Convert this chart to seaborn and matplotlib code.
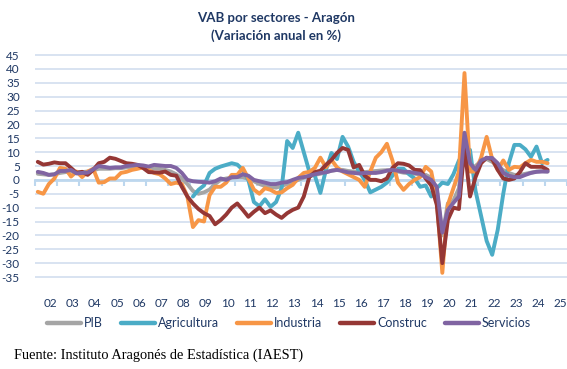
import matplotlib
matplotlib.use("Agg")
import matplotlib.pyplot as plt
import seaborn as sns
import numpy as np
import pandas as pd

sns.set_style("white")
plt.rcParams['font.family'] = ['Lato', 'DejaVu Sans']

# Trimestres 2002T1 .. 2025T1 (93 puntos)
trimestres = [f"{2002 + i // 4}T{i % 4 + 1}" for i in range(93)]
anios = [f"{y:02d}" for y in range(2, 26)]

pib = [2.2, 2.0, 1.8, 2.0, 2.5, 2.8, 3.0, 2.8, 2.8, 3.0, 3.5, 4.0,
       4.0, 4.0, 4.2, 4.2, 4.5, 4.5, 4.6, 4.6, 4.4, 4.2, 4.0, 3.6,
       3.0, 2.0, 0.5, -1.5, -4.0, -5.0, -4.5, -3.5, -1.5, 0.0, 0.5, 0.8,
       1.0, 1.0, 0.3, -0.5, -1.5, -2.2, -2.5, -2.8, -2.2, -1.5, -0.8, 0.0,
       0.8, 1.3, 1.8, 2.2, 2.8, 3.3, 3.6, 3.6, 3.2, 3.0, 2.8, 2.8,
       3.0, 3.2, 3.4, 3.5, 3.4, 3.0, 2.6, 2.4, 2.2, 2.0, 1.8, 0.8,
       -3.5, -20.0, -8.5, -7.5, -3.0, 16.0, 4.5, 5.0, 6.8, 7.5, 6.5, 5.0,
       3.5, 2.5, 1.8, 1.8, 2.2, 2.6, 3.0, 3.2, 3.0]

# Agricultura empieza en 2009T1
agri_inicio = 28
agricultura = [-6.0, -3.6, -2.0, 2.5, 4.0, 4.8, 5.4, 6.0, 5.5, 3.6, 0.0,
               -8.0, -9.5, -7.0, -9.7, -8.0, -3.0, 14.0, 11.5, 17.0, 10.0,
               3.0, 1.5, -4.7, 3.6, 9.7, 7.5, 15.5, 12.0, 6.5, 3.0,
               0.0, -4.5, -3.5, -2.5, -1.0, 1.5, 4.0, 4.0, 2.0, 0.5,
               -2.5, -2.0, -6.0, -3.0, -1.0, -1.5, 2.0, 7.0, 10.0, 10.8,
               -4.0, -13.0, -22.0, -27.0, -18.0, -5.0, 6.0, 12.6, 12.6, 11.0,
               8.3, 12.0, 6.0, 7.2]

industria = [-4.3, -5.0, -1.5, 0.5, 4.3, 4.0, 1.2, 3.0, 1.0, 3.0, 4.0, -1.0,
             -0.8, 0.5, 0.5, 2.5, 2.9, 3.6, 4.0, 4.5, 3.5, 2.5, 2.0, 0.5,
             -1.5, -1.0, -1.5, -6.0, -17.0, -14.5, -15.0, -5.5, -2.5, -2.5, -1.0, 1.8,
             1.8, 4.3, 0.5, -3.5, -5.0, -3.0, -3.6, -4.7, -4.5, -3.0, -1.8, 0.7,
             2.5, 2.9, 4.3, 8.0, 4.5, 7.2, 4.5, 3.0, 2.0, 1.0, 0.0, -2.5,
             3.0, 8.0, 10.0, 13.0, 7.0, -1.0, -3.6, -1.5, 0.0, 1.0, 4.7, 3.0,
             -7.0, -33.5, -9.0, -3.0, 3.0, 38.5, 3.0, 3.0, 8.0, 15.5, 7.5, 3.6,
             7.0, 3.6, 4.7, 4.5, 6.0, 7.2, 6.5, 6.5, 6.0]

construc = [6.5, 5.5, 5.8, 6.3, 6.0, 6.0, 4.3, 2.5, 2.9, 1.8, 3.6, 6.0,
            6.5, 8.0, 7.6, 6.8, 6.0, 5.8, 5.4, 4.3, 2.8, 2.7, 2.6, 3.0,
            1.8, 1.5, -2.5, -6.0, -8.5, -10.5, -12.0, -13.0, -16.0, -14.5, -12.5, -10.0,
            -8.5, -10.8, -13.3, -11.5, -10.0, -12.0, -11.0, -12.5, -13.7, -12.0, -10.8, -10.0,
            -6.0, 1.0, 2.8, 3.3, 5.4, 7.2, 9.7, 11.5, 10.8, 4.5, 5.4, 1.5,
            0.0, 0.0, -0.5, 0.5, 4.3, 6.0, 5.8, 5.2, 3.6, 3.5, 0.5, -2.0,
            -9.0, -30.0, -14.4, -10.0, -10.5, 12.0, -6.0, 1.0, 6.0, 8.0, 7.5, 3.6,
            0.5, 0.0, 0.5, 2.8, 6.0, 4.7, 4.7, 4.7, 3.6]

servicios = [2.9, 2.5, 1.8, 2.0, 3.2, 3.2, 3.6, 2.3, 2.5, 2.6, 3.8, 5.0,
             4.7, 4.3, 4.5, 4.5, 5.0, 5.2, 5.4, 5.2, 4.8, 5.4, 5.2, 5.0,
             5.0, 4.3, 2.5, 0.0, -0.5, -0.7, -0.8, -1.0, -0.5, 0.5, 0.0, 1.0,
             1.0, 2.0, 1.5, 0.0, -0.5, -1.0, -1.5, -1.5, -1.0, -0.8, 0.0, 0.7,
             1.0, 1.5, 2.0, 2.5, 2.7, 3.3, 3.6, 3.2, 2.7, 2.5, 2.3, 2.5,
             2.5, 2.5, 2.8, 3.3, 3.6, 3.3, 2.9, 2.9, 2.5, 2.2, 1.0, 0.0,
             -2.5, -19.0, -10.8, -8.3, -6.0, 17.0, 6.0, 3.6, 7.0, 7.9, 7.9, 6.0,
             2.5, 1.5, 1.0, 1.0, 1.8, 2.5, 2.9, 3.0, 3.0]

series = ["PIB", "Agricultura", "Industria", "Construc", "Servicios"]
colores = ["#A5A5A5", "#4BACC6", "#F79646", "#953735", "#8064A2"]
navy = "#1F3864"

# Tabla larga para seaborn
filas = []
for nombre, valores, inicio in [("PIB", pib, 0), ("Agricultura", agricultura, agri_inicio),
                                ("Industria", industria, 0), ("Construc", construc, 0),
                                ("Servicios", servicios, 0)]:
    for k, v in enumerate(valores):
        filas.append({"idx": inicio + k, "trimestre": trimestres[inicio + k],
                      "serie": nombre, "valor": v})
df = pd.DataFrame(filas)

W, H = 567, 369
fig = plt.figure(figsize=(W / 100, H / 100), dpi=100)
ymin, ymax = -35.5, 45.5
top_px = 55 - 0.5 * 2.775
bot_px = 277 + 0.5 * 2.775
ax = fig.add_axes([35 / W, 1 - bot_px / H, 532 / W, (bot_px - top_px) / H])

sns.lineplot(data=df, x="idx", y="valor", hue="serie", hue_order=series,
             palette=colores, linewidth=2.8, ax=ax, legend=True,
             solid_joinstyle="round", solid_capstyle="round")

ax.set_xlim(-0.5, 95.5)
ax.set_ylim(ymin, ymax)
ax.set_xlabel("")
ax.set_ylabel("")
for s in ax.spines.values():
    s.set_visible(False)

ax.set_yticks(list(range(-35, 50, 5)))
ax.set_yticklabels([str(v) for v in range(-35, 50, 5)])
ax.set_xticks([4 * k + 2.3 for k in range(len(anios))])
ax.set_xticklabels(anios)
ax.tick_params(axis="y", length=0, pad=11, labelsize=8.5, labelcolor=navy)
ax.tick_params(axis="x", length=0, pad=14, labelsize=8.5, labelcolor=navy)
ax.set_axisbelow(True)
ax.grid(axis="y", color="#D6E1F0", linewidth=1.3)
ax.grid(axis="x", visible=False)

# eje horizontal en cero con marcas entre años
loc0 = (0 - ymin) / (ymax - ymin)
sec = ax.secondary_xaxis(loc0)
sec.set_xticks([4 * k - 0.5 for k in range(25)])
sec.tick_params(length=4, width=1.5, color="#BDD7EE", labelbottom=False, labeltop=False)
for s in sec.spines.values():
    s.set_color("#BDD7EE")
    s.set_linewidth(2)
sec.set_zorder(1)

handles, labels = ax.get_legend_handles_labels()
ax.get_legend().remove()
leg = fig.legend(handles, labels, ncol=5, loc="center", bbox_to_anchor=(0.51, 1 - 323 / H),
                 frameon=False, handlelength=2.7, handletextpad=0.25, columnspacing=1.45,
                 fontsize=9, labelcolor=navy)
for ln in leg.get_lines():
    ln.set_linewidth(3.2)

fig.text(0.487, 1 - 18 / H, "VAB por sectores - Aragón", ha="center", va="center",
         fontsize=9.5, fontweight="bold", color=navy)
fig.text(0.487, 1 - 36 / H, "(Variación anual en %)", ha="center", va="center",
         fontsize=9.5, fontweight="bold", color=navy)
fig.text(14 / W, 1 - 355 / H, "Fuente: Instituto Aragonés de Estadística (IAEST)",
         ha="left", va="center", fontsize=10.4, family=["Liberation Serif", "DejaVu Serif"],
         color="black")

fig.savefig("out.png", dpi=100)
